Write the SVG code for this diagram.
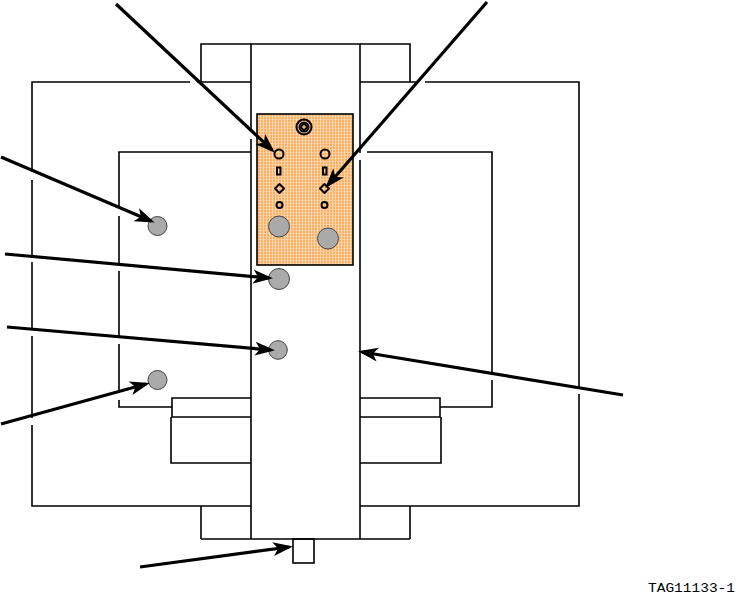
<svg xmlns="http://www.w3.org/2000/svg" width="738" height="596" viewBox="0 0 738 596">
<style>
.l{fill:none;stroke:#000;stroke-width:1.6}
.a{fill:none;stroke:#000;stroke-width:3.2;marker-end:url(#ah)}
.g{fill:#aaa;stroke:#444;stroke-width:1}
.o{fill:none;stroke:#000;stroke-width:2}
</style>
<defs>
<marker id="ah" markerUnits="userSpaceOnUse" markerWidth="22" markerHeight="16" refX="16" refY="8" orient="auto" viewBox="0 0 22 16"><path d="M0 1L20 8L0 15L5 8Z" fill="#000"/></marker>
<pattern id="dots" width="3" height="3" patternUnits="userSpaceOnUse"><rect width="3" height="3" fill="#fdb064"/><rect x="2" y="0" width="1" height="3" fill="#fdd8b0"/><rect x="0" y="2" width="3" height="0.6" fill="#fdd8b0"/></pattern>
</defs>
<rect width="738" height="596" fill="#fff"/>
<g id="housing">
<path class="l" d="M190 82H32V172M32 180V255M32 262V328M32 336V418M32 425V506H251"/>
<path class="l" d="M425 82H579V389M579 394V506H360"/>
<path class="l" d="M197 82H251M360 82H418"/>
<path class="l" d="M251 44H201V82M360 44H410V82M201 506V539M410 506V539"/>
<path class="l" d="M251 152H119V208M119 216V265M119 271V338M119 344V393M119 400V407H172"/>
<path class="l" d="M367 152H492V375M492 380V407H440"/>
<path class="l" d="M251 398H172V417H251M171 417V463H251M360 398H440V417H360M441 417V463H360"/>
</g>
<g id="center-bar">
<path class="l" d="M251 130V44H360V153M360 160V539H201M360 539H410M251 139V539"/>
</g>
<g id="pin"><rect class="l" x="293" y="539" width="21" height="24" fill="#fff"/></g>
<g id="plate">
<rect x="257" y="114" width="96" height="151" fill="url(#dots)" stroke="#000" stroke-width="1.600"/>
<circle class="o" cx="304" cy="127" r="7.500"/><circle class="o" cx="304" cy="127" r="4.500"/><path class="o" d="M304 123.500L307.500 127L304 130.500L300.500 127Z"/>
<circle class="o" cx="279" cy="154" r="4.500"/><circle class="o" cx="325" cy="154" r="4.500"/>
<rect class="o" x="277" y="167.500" width="3.500" height="7"/><rect class="o" x="323" y="167.500" width="3.500" height="7"/>
<path class="o" d="M279.500 184L284 188.500L279.500 193L275 188.500Z" stroke-linejoin="round"/><path class="o" d="M324.500 184L329 188.500L324.500 193L320 188.500Z" stroke-linejoin="round"/>
<circle class="o" cx="279.500" cy="205" r="3"/><circle class="o" cx="324.500" cy="205" r="3"/>
<circle class="g" cx="279" cy="226.500" r="10.500"/><circle class="g" cx="328" cy="238.500" r="10.500"/>
</g>
<g id="pins">
<circle class="g" cx="157.500" cy="226" r="9.500"/>
<circle class="g" cx="279" cy="279" r="10.500"/>
<circle class="g" cx="278" cy="350" r="9.300"/>
<circle class="g" cx="157.500" cy="380" r="9.500"/>
</g>
<g id="connectors">
<path class="a" d="M116 4L272 150"/>
<path class="a" d="M487 2L328 185"/>
<path class="a" d="M1 157L151 221"/>
<path class="a" d="M5 254L269 278"/>
<path class="a" d="M7 327L271 350"/>
<path class="a" d="M1 424L146 384"/>
<path class="a" d="M623 395L362 352"/>
<path class="a" d="M140 567L289 547"/>
</g>
<text x="648" y="592" font-family="'Liberation Mono',monospace" font-size="12" textLength="87" lengthAdjust="spacingAndGlyphs" fill="#000">TAG11133-1</text>
</svg>
